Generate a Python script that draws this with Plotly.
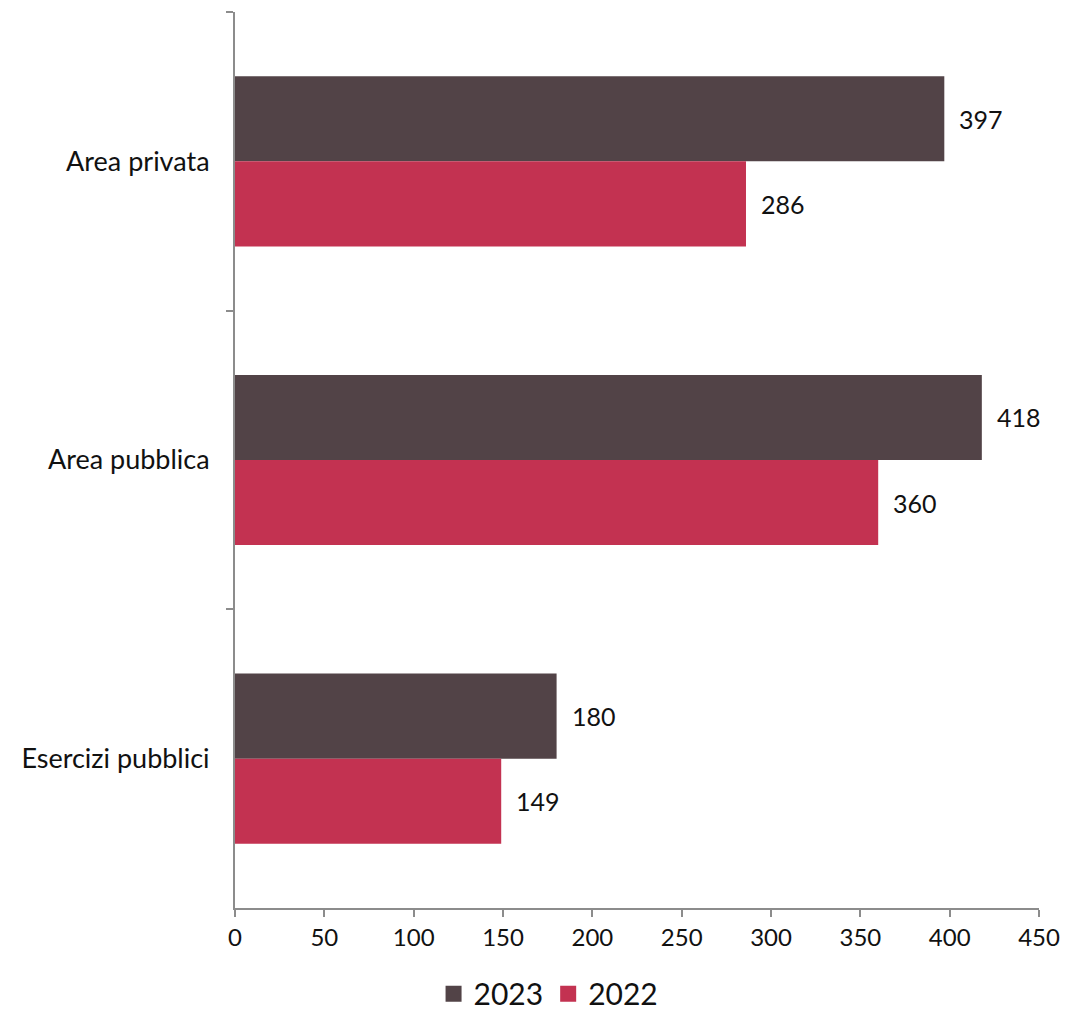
import plotly.graph_objects as go

categories = ["Area privata", "Area pubblica", "Esercizi pubblici"]
values_2023 = [397, 418, 180]
values_2022 = [286, 360, 149]
x_ticks = [0, 50, 100, 150, 200, 250, 300, 350, 400, 450]

DARK = "#524347"
RED = "#C33251"
FONT = "Lato, 'Noto Sans', sans-serif"
BARGAP = 0.43

fig = go.Figure()
fig.add_trace(go.Bar(name="2023", y=categories, x=values_2023, orientation="h",
                     marker=dict(color=DARK, line=dict(width=0)), showlegend=False))
fig.add_trace(go.Bar(name="2022", y=categories, x=values_2022, orientation="h",
                     marker=dict(color=RED, line=dict(width=0)), showlegend=False))

# legend entries with larger square swatches
for name, col in (("2023", DARK), ("2022", RED)):
    fig.add_trace(go.Scatter(name=name, x=[None], y=[None], mode="markers",
                             marker=dict(symbol="square", size=17, color=col),
                             showlegend=True))

# value labels next to the bars
w = (1 - BARGAP) / 2
for i, c in enumerate(categories):
    for v, off in ((values_2023[i], -w / 2), (values_2022[i], w / 2)):
        fig.add_annotation(x=v, y=i + off, xref="x", yref="y", text=str(v),
                           showarrow=False, xanchor="left", yanchor="middle",
                           xshift=13, font=dict(size=25, color="#111111", family=FONT))

fig.update_layout(
    width=1066, height=1014,
    margin=dict(l=235, r=27, t=12, b=106, autoexpand=False),
    paper_bgcolor="white", plot_bgcolor="white",
    barmode="group", bargap=BARGAP, bargroupgap=0,
    font=dict(family=FONT, size=24, color="#111111"),
    showlegend=True,
    legend=dict(orientation="h", x=0.39, xanchor="center",
                yref="container", y=0.02, yanchor="middle",
                font=dict(size=30, family=FONT, color="#111111"), traceorder="normal",
                itemwidth=30, tracegroupgap=0),
)
fig.update_xaxes(range=[0, 450], tickvals=x_ticks, showgrid=False, zeroline=False,
                 showline=True, linecolor="#8c8c8c", linewidth=2,
                 ticks="outside", ticklen=7, tickcolor="#8c8c8c", tickwidth=2,
                 tickfont=dict(size=24), automargin=False)
fig.update_yaxes(categoryorder="array", categoryarray=categories,
                 range=[2.5, -0.5], showgrid=False, zeroline=False,
                 showline=True, linecolor="#8c8c8c", linewidth=2,
                 ticks="outside", ticklen=7, tickcolor="#8c8c8c", tickwidth=2,
                 tickson="boundaries", ticklabelstandoff=18,
                 tickfont=dict(size=27), automargin=False)

fig.write_html("out.html", config={"displayModeBar": False},
               post_script="document.body.style.margin='0';document.body.style.overflow='hidden';")
